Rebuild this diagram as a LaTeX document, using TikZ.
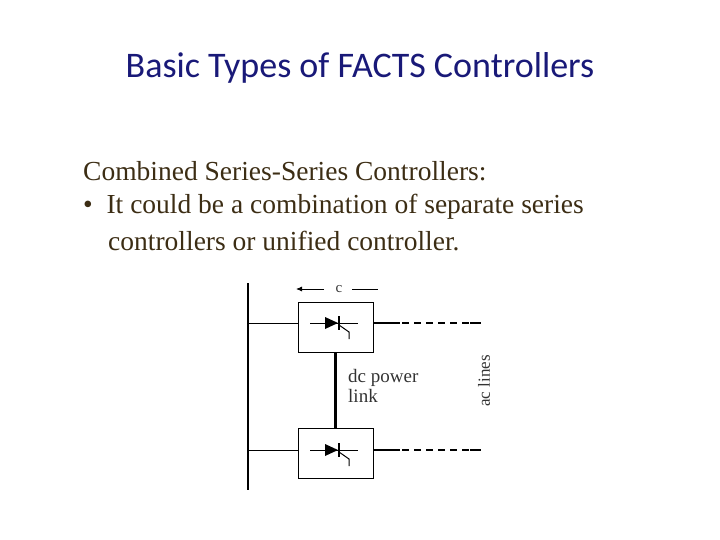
\documentclass[tikz,border=0pt]{standalone}
\usepackage{fontspec}
\usetikzlibrary{arrows.meta}
\setmainfont{Liberation Serif}
\newfontfamily\titlefont{Carlito}
\begin{document}
\begin{tikzpicture}[x=1pt,y=-1pt,
  txt/.style={anchor=west,inner sep=0pt,font=\fontsize{27.5}{30}\selectfont,text={rgb,255:red,60;green,45;blue,20}},
  conv/.style={draw,line width=0.8pt,minimum width=75pt,minimum height=50pt,inner sep=0pt},
  small/.style={inner sep=0pt,font=\fontsize{19}{19}\selectfont,text=black!80}]
\useasboundingbox (0,0) rectangle (720,540);
\node[inner sep=0pt,font=\titlefont\fontsize{36}{40}\selectfont,text={rgb,255:red,25;green,25;blue,120}] (title) at (360,68) {Basic Types of FACTS Controllers};
\node[txt] (l1) at (83,171) {Combined Series-Series Controllers:};
\node[txt] (l2) at (83,207) {\textbullet\ \ It could be a combination of separate series};
\node[txt] (l3) at (108,241) {controllers or unified controller.};
% bus
\coordinate (bt) at (248,283); \coordinate (bb) at (248,490);
\draw[line width=2.2pt] (bt) -- (bb);
\node[conv] (b1) at (335.5,327) {};
\node[conv] (b2) at (335.5,453) {};
\draw[line width=2.2pt] (b1.south) -- (b2.north);
\foreach \b/\y in {b1/323,b2/450}{
  \draw[line width=0.8pt] (248,\y) -- (\b.west |- 0,\y);
  \draw[line width=1.6pt] (\b.east |- 0,\y) -- (400,\y);
  \draw[line width=1.6pt,dash pattern=on 7pt off 5pt] (402,\y) -- (470,\y);
  \draw[line width=1.6pt] (470,\y) -- (481,\y);
  \draw[line width=0.8pt] (310,\y) -- (358,\y);
  \fill (325,\y-6) -- (338,\y) -- (325,\y+6) -- cycle;
  \draw[line width=1.4pt] (339,\y-7) -- (339,\y+7);
  \draw[line width=1pt] (339,\y+2) -- (349,\y+9) -- (349,\y+16);
}
\node[small,font=\fontsize{15}{15}\selectfont] (c) at (339,289) {c};
\draw[-{Latex[length=6pt,width=5pt]},line width=0.8pt] (324,289) -- (296,289);
\draw[line width=0.8pt] (352,289) -- (378,289);
\node[small,anchor=west,align=left] (dc) at (348,386) {dc power\\[1pt]link};
\node[small,font=\fontsize{17}{17}\selectfont,rotate=90] (ac) at (484,381) {ac lines};
\end{tikzpicture}
\end{document}
